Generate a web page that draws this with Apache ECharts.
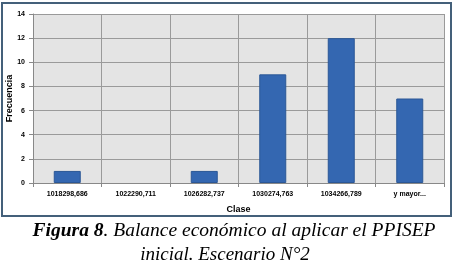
<!DOCTYPE html>
<html><head><meta charset="utf-8">
<script src="https://cdn.jsdelivr.net/npm/echarts@6/dist/echarts.min.js"></script>
<style>html,body{margin:0;padding:0;background:#fff;}#c{width:454px;height:266px;}</style>
</head><body><div id="c"></div>
<script>
const categories = ['1018298,686','1022290,711','1026282,737','1030274,763','1034266,789','y mayor...'];
const frecuencia = [1, 0, 1, 9, 12, 7];
const yTicks = { min: 0, max: 14, interval: 2 };
const captionBold = 'Figura 8';
const captionLine1 = '. Balance económico al aplicar el PPISEP';
const captionLine2 = 'inicial. Escenario N°2';

const chart = echarts.init(document.getElementById('c'), null, {renderer: 'canvas'});
chart.setOption({
  animation: false,
  backgroundColor: '#ffffff',
  grid: { left: 33, right: 10, top: 14, bottom: 83, containLabel: false, outerBoundsMode: 'none', show: true, backgroundColor: '#e4e4e4', borderWidth: 0 },
  graphic: [
    { type: 'rect', shape: { x: 2, y: 3, width: 449, height: 213 }, style: { fill: 'none', stroke: '#44607a', lineWidth: 2 }, z: 100 },
    { type: 'text', x: 234, y: 231, style: {
        text: '{b|' + captionBold + '}' + captionLine1,
        font: 'italic 19.5px "Liberation Serif"', fill: '#000', align: 'center', verticalAlign: 'middle',
        rich: { b: { fontFamily: 'Liberation Serif', fontStyle: 'italic', fontWeight: 'bold', fontSize: 19.5, fill: '#000' } }
    } },
    { type: 'text', x: 225, y: 255, style: {
        text: captionLine2,
        font: 'italic 19px "Liberation Serif"', fill: '#000', align: 'center', verticalAlign: 'middle'
    } }
  ],
  xAxis: {
    type: 'category', data: categories,
    name: 'Clase', nameLocation: 'middle', nameGap: 22, nameMoveOverlap: false,
    nameTextStyle: { fontFamily: 'Liberation Sans', fontWeight: 'bold', fontSize: 9, color: '#000' },
    axisLine: { lineStyle: { color: '#888', width: 1 } },
    axisTick: { show: true, length: 4, lineStyle: { color: '#888' } },
    axisLabel: { fontFamily: 'Liberation Sans', fontWeight: 'bold', fontSize: 7, color: '#000', margin: 8, interval: 0 },
    splitLine: { show: true, lineStyle: { color: '#9a9a9a', width: 1 } }
  },
  yAxis: {
    type: 'value', min: yTicks.min, max: yTicks.max, interval: yTicks.interval,
    name: 'Frecuencia', nameLocation: 'middle', nameGap: 19, nameRotate: 90, nameMoveOverlap: false,
    nameTextStyle: { fontFamily: 'Liberation Sans', fontWeight: 'bold', fontSize: 9, color: '#000' },
    axisLine: { show: true, lineStyle: { color: '#888', width: 1 } },
    axisTick: { show: true, length: 4, lineStyle: { color: '#888' } },
    axisLabel: { fontFamily: 'Liberation Sans', fontWeight: 'bold', fontSize: 7, color: '#000', margin: 8 },
    splitLine: { show: true, lineStyle: { color: '#9a9a9a', width: 1 } }
  },
  series: [{
    type: 'bar', barWidth: 27,
    data: frecuencia.map(v => ({ value: v, itemStyle: v === 0 ? { borderWidth: 0 } : {} })),
    itemStyle: { color: '#3467b1', borderColor: '#2b5796', borderWidth: 1 }
  }]
});
</script></body></html>
